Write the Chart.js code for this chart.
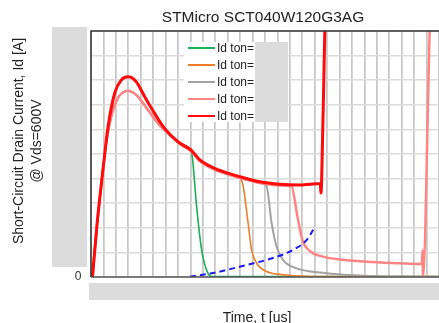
<!DOCTYPE html>
<html>
<head>
<meta charset="utf-8">
<script src="https://cdn.jsdelivr.net/npm/chart.js@4"></script>
<style>
  html, body { margin: 0; padding: 0; background: #fff; }
  #wrap { width: 439px; height: 323px; }
</style>
</head>
<body>
<div id="wrap"><canvas id="sc"></canvas></div>
<script>
// --- Data (x in grid divisions, y in grid divisions) ---
const xMin = 0, xMax = 28;
const yMin = 0, yMax = 10;

const chartTitle = 'STMicro SCT040W120G3AG';
const xTitle = 'Time, t [us]';
const yTitle = ['Short-Circuit Drain Current, Id [A]', '@ Vds=600V'];
const yTickLabels = ['0'];
const legendLabels = ['Id ton=', 'Id ton=', 'Id ton=', 'Id ton=', 'Id ton='];

// shared rise + decay, before each curve turns off
const trunkX = [0.12, 0.48, 0.96, 1.23, 1.63, 2.17, 2.57, 2.97, 3.38, 3.78, 4.58, 5.39, 6.19, 7.26, 8.06, 8.76, 10.37, 11.98, 13.59, 15.19, 16.13];
const trunkY = [0, 2.11, 4.35, 5.45, 6.52, 7.28, 7.50, 7.57, 7.50, 7.33, 6.79, 6.25, 5.84, 5.37, 5.11, 4.71, 4.28, 4.03, 3.82, 3.72, 3.69];

const greenX = [8.16, 8.50, 8.90, 9.30, 9.70, 28];
const greenY = [4.84, 2.86, 1.10, 0.28, 0.02, 0.02];

const orangeX = [12.24, 12.64, 12.92, 13.32, 14.12, 15.73, 18.41, 28];
const orangeY = [3.70, 2.20, 1.10, 0.57, 0.22, 0.08, 0.02, 0.02];

const grayX = [14.12, 14.53, 14.93, 15.46, 16.54, 18.41, 20.82, 23.77, 28];
const grayY = [3.70, 2.20, 1.23, 0.69, 0.35, 0.18, 0.08, 0.02, 0.01];

const pinkX = [16.61, 17.01, 17.68, 18.67, 20.02, 22.16, 24.84, 26.61, 26.69, 26.70, 27.25];
const pinkY = [2.45, 1.50, 1.03, 0.83, 0.71, 0.62, 0.56, 0.53, 1.10, 0, 10];

const redX = [0.12, 0.48, 0.96, 1.37, 1.91, 2.44, 2.97, 3.64, 4.32, 5.12, 5.92, 6.99, 8.06, 8.76, 10.37, 11.98, 13.59, 15.19, 16.80, 18.45, 18.49, 18.55, 18.81];
const redY = [0, 2.11, 4.35, 6.10, 7.48, 8.01, 8.14, 7.94, 7.33, 6.65, 6.04, 5.50, 5.16, 4.76, 4.33, 4.08, 3.87, 3.77, 3.74, 3.80, 3.41, 3.78, 10];

const blueX = [7.96, 9.81, 12.52, 14.63, 16.24, 17.34, 17.87, 18.01];
const blueY = [0.01, 0.16, 0.49, 0.77, 1.10, 1.50, 1.91, 2.03];

// --- helpers ---
function pts(xs, ys) {
  return xs.map((x, i) => ({ x, y: ys[i] }));
}
// trunk up to a given x, then the curve's own tail
function withTrunk(lastX, xs, ys) {
  const head = pts(trunkX, trunkY).filter(p => p.x <= lastX);
  return head.concat(pts(xs, ys));
}

const FONT = "'Liberation Sans', Arial, sans-serif";
const colors = {
  green: '#1db054',
  orange: '#f07f2c',
  gray: '#a3a3a3',
  pink: '#ff8484',
  red: '#ff0a0a',
  blue: '#1b1bf0'
};

const datasets = [
  { label: legendLabels[0], data: withTrunk(8.06, greenX, greenY), borderColor: colors.green, borderWidth: 1.6, order: 5 },
  { label: legendLabels[1], data: withTrunk(12.11, orangeX, orangeY), borderColor: colors.orange, borderWidth: 1.6, order: 4 },
  { label: legendLabels[2], data: withTrunk(13.99, grayX, grayY), borderColor: colors.gray, borderWidth: 2, order: 3 },
  { label: legendLabels[3], data: withTrunk(16.13, pinkX, pinkY), borderColor: colors.pink, borderWidth: 2.5, order: 2 },
  { label: legendLabels[4], data: pts(redX, redY), borderColor: colors.red, borderWidth: 3, order: 1 },
  { label: '', data: pts(blueX, blueY), borderColor: colors.blue, borderWidth: 2, borderDash: [6, 4], order: 0 }
];
datasets.forEach(ds => {
  ds.pointRadius = 0;
  ds.fill = false;
  ds.cubicInterpolationMode = 'monotone';
});

// --- Decorations: grey blocks, frame, texts, legend ---
const decorPlugin = {
  id: 'decor',
  beforeDraw(chart) {
    const ctx = chart.ctx;
    ctx.save();
    ctx.fillStyle = '#fff';
    ctx.fillRect(0, 0, chart.width, chart.height);
    ctx.fillStyle = '#dcdcdc';
    ctx.fillRect(52, 27, 35, 240);
    ctx.fillRect(89, 283, 350, 17);
    ctx.restore();
  },
  afterDraw(chart) {
    const { ctx, chartArea: a, scales } = chart;
    ctx.save();

    // frame
    ctx.strokeStyle = '#333';
    ctx.lineWidth = 1.5;
    ctx.beginPath();
    ctx.moveTo(a.left, a.bottom);
    ctx.lineTo(a.left, a.top);
    ctx.lineTo(a.right, a.top);
    ctx.stroke();
    ctx.strokeStyle = '#555';
    ctx.beginPath();
    ctx.moveTo(a.left, a.bottom);
    ctx.lineTo(a.right, a.bottom);
    ctx.stroke();

    // legend box
    ctx.fillStyle = '#fff';
    ctx.fillRect(184, 42, 104, 80);
    const rowY = [48, 65, 82, 99, 116];
    const legColors = [colors.green, colors.orange, colors.gray, colors.pink, colors.red];
    ctx.font = '12px ' + FONT;
    ctx.textBaseline = 'middle';
    ctx.textAlign = 'left';
    rowY.forEach((y, i) => {
      ctx.strokeStyle = legColors[i];
      ctx.lineWidth = 2;
      ctx.beginPath();
      ctx.moveTo(188, y);
      ctx.lineTo(215, y);
      ctx.stroke();
      ctx.fillStyle = '#222';
      ctx.fillText(legendLabels[i], 217, y + 1);
    });
    ctx.fillStyle = '#dcdcdc';
    ctx.fillRect(255, 42, 33, 80);

    // chart title
    ctx.fillStyle = '#222';
    ctx.textAlign = 'center';
    ctx.textBaseline = 'alphabetic';
    ctx.font = '15.5px ' + FONT;
    ctx.fillText(chartTitle, 263, 22);

    // x title
    ctx.font = '14px ' + FONT;
    ctx.fillText(xTitle, 257, 322);

    // y tick label
    ctx.font = '12px ' + FONT;
    ctx.fillStyle = '#333';
    ctx.textBaseline = 'middle';
    ctx.fillText(yTickLabels[0], 78, scales.y.getPixelForValue(0));

    // y title (two rotated lines)
    ctx.fillStyle = '#222';
    ctx.font = '14px ' + FONT;
    ctx.translate(0, 141);
    ctx.rotate(-Math.PI / 2);
    ctx.textBaseline = 'alphabetic';
    ctx.fillText(yTitle[0], 0, 23);
    ctx.fillText(yTitle[1], 0, 41);
    ctx.restore();
  }
};

new Chart(document.getElementById('sc'), {
  type: 'line',
  data: { datasets },
  options: {
    responsive: true,
    maintainAspectRatio: false,
    animation: false,
    layout: { padding: { left: 91, top: 31, right: 0, bottom: 46 } },
    plugins: { legend: { display: false }, tooltip: { enabled: false }, title: { display: false } },
    scales: {
      x: {
        type: 'linear', min: xMin, max: xMax,
        ticks: { display: false, stepSize: 1 },
        grid: { color: '#c8c8c8', lineWidth: 1.8, drawTicks: false },
        border: { display: false }
      },
      y: {
        type: 'linear', min: yMin, max: yMax,
        ticks: { display: false, stepSize: 1 },
        grid: { color: '#dcdcdc', lineWidth: 1.5, drawTicks: false },
        border: { display: false }
      }
    }
  },
  plugins: [decorPlugin]
});
</script>
</body>
</html>
